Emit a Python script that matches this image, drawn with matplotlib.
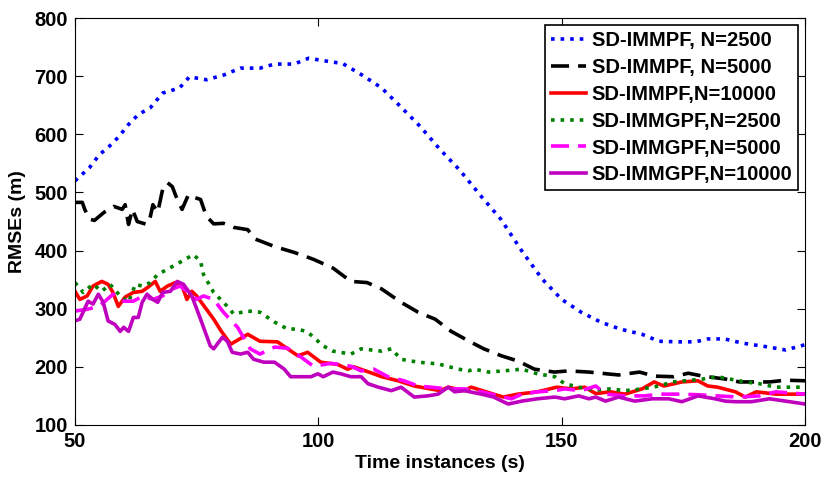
import matplotlib
matplotlib.use("Agg")
import matplotlib.pyplot as plt

plt.rcParams['font.family'] = ['Liberation Sans', 'DejaVu Sans']
plt.rcParams['font.weight'] = 'bold'

# SD-IMMPF, N=2500
t_pf2500 = [50, 53, 55, 57, 59, 61, 63, 65.5, 68, 71.5, 73.5, 77, 80.5, 84, 88, 91, 95, 98,
            102.5, 105, 109, 113, 117, 121, 125, 129, 133.5, 137.5, 142, 146, 150, 154, 158,
            162, 166.5, 170, 174, 177.5, 180, 183.5, 187, 192.5, 196, 200]
v_pf2500 = [520, 543, 565, 579, 596, 617, 634, 646, 671, 680, 699, 694, 702, 714, 714, 721, 721, 731,
            725, 722, 702, 680, 647, 613, 574, 539, 493, 454, 397, 351, 316, 294, 277,
            265, 256, 244, 243, 243, 248, 248, 241, 234, 229, 238]

# SD-IMMPF, N=5000
t_pf5000 = [50, 51.5, 52, 53, 54, 56, 58, 59.7, 60.3, 61, 61.8, 62.8, 64.8, 65.5, 66, 67, 68, 69,
            70, 71, 72, 73.3, 74.7, 75.8, 77, 78.5, 80.5, 82.6, 85.5, 87, 91, 95, 99, 103,
            106.7, 110, 113, 117, 120.5, 124, 127.3, 131, 134, 137.6, 141, 144.4, 148.5,
            151.4, 155.6, 161.7, 166, 169, 173, 176, 179, 183.6, 186.5, 192.7, 196, 200]
v_pf5000 = [483, 483, 471, 454, 452, 466, 476, 471, 479, 445, 471, 450, 445, 459, 479, 466, 505, 517,
            510, 488, 471, 496, 491, 488, 459, 446, 447, 440, 436, 420, 407, 397, 385, 370,
            347, 345, 334, 311, 294, 282, 261, 244, 231, 219, 210, 196, 191,
            193, 191, 186, 191, 184, 183, 189, 184, 179, 174, 174, 177, 176]

# SD-IMMPF, N=10000
t_pf10000 = [50, 51, 52.5, 53.7, 55.5, 56.8, 57.8, 58.9, 60.3, 62, 63.8, 65, 66.5, 67.5, 69, 70.6,
             72, 73, 74, 75, 76.4, 78.5, 80, 82, 85.5, 88, 91.6, 95.8, 97.8, 100.5, 104, 106,
             107.3, 111.4, 113, 116.4, 119.7, 123, 125, 126.7, 130, 131.4, 136, 138, 141, 145,
             149, 152, 154.7, 157, 160, 163, 166.5, 169, 171, 174.7, 178, 180, 182, 185.7, 187.7,
             190, 194, 200]
v_pf10000 = [330, 316, 322, 339, 347, 342, 328, 304, 320, 328, 330, 337, 347, 330, 339, 345,
             339, 316, 330, 322, 306, 282, 262, 239, 256, 244, 243, 219, 225, 208, 204, 196,
             200, 188, 183, 176, 167, 162, 159, 165, 159, 165, 153, 148, 153, 157,
             165, 162, 165, 154, 157, 153, 162, 174, 167, 174, 176, 167, 165, 157, 148,
             157, 153, 153]

# SD-IMMGPF, N=2500
t_gpf2500 = [50, 51.7, 53.7, 55.5, 57.2, 59.3, 61, 62.4, 63.8, 65.5, 67, 69, 71.6, 74.3, 75.8,
             76.4, 78.5, 81.3, 82.6, 85.5, 88, 91, 93.7, 95.8, 97.8, 101, 103, 106.7, 108.8, 113,
             115, 117, 120.5, 124.6, 128.8, 130.8, 132, 135, 138, 141.8, 145, 148.6, 150.6,
             153.5, 157, 160, 163, 166.5, 170, 172.7, 175.4, 179, 182, 184.5, 187.7, 190.6,
             194, 200]
v_gpf2500 = [345, 328, 342, 330, 342, 322, 311, 342, 339, 345, 359, 368, 380, 393, 382,
             359, 328, 304, 291, 296, 294, 277, 265, 265, 260, 236, 227, 222, 231, 227,
             231, 213, 208, 205, 196, 193, 196, 191, 193, 196, 188, 183, 171,
             165, 160, 162, 159, 162, 167, 174, 176, 179, 183, 179, 174, 171,
             165, 165]

# SD-IMMGPF, N=5000
t_gpf5000 = [50, 52.5, 54.8, 56.2, 57.8, 60, 62, 64, 66, 68, 70, 71.6, 73, 75, 76.4, 78.5, 80.5,
             83.4, 86, 88, 91, 93.7, 96.4, 99, 102.6, 106.7, 108.8, 111.4, 114.3, 117.6, 120.5,
             123, 126.7, 130, 133.5, 137, 139.7, 141.8, 145, 148.6, 150.6, 154, 157, 159, 163,
             167, 170, 174, 178, 182, 186.5, 190.6, 194, 200]
v_gpf5000 = [296, 299, 304, 313, 325, 313, 313, 322, 316, 322, 334, 339, 330, 316, 322, 316, 294,
             268, 231, 222, 234, 232, 217, 201, 206, 201, 193, 196, 183, 176, 167,
             165, 162, 162, 157, 150, 145, 153, 157, 159, 162, 159, 167, 153, 150,
             150, 153, 153, 152, 150, 148, 150, 157, 153]

# SD-IMMGPF, N=10000
t_gpf10000 = [50, 51, 52.7, 53.7, 54.8, 55.8, 56.8, 58.2, 59.3, 60, 61, 62, 63, 63.8, 64.8, 66,
              67, 68, 69.6, 71, 72.3, 74, 75.8, 77.8, 78.5, 80.3, 81.3, 82.3, 84, 85.5, 86.7,
              88.8, 91, 93, 94.3, 96.4, 98.5, 99.9, 101, 103, 104.6, 106.7, 108.8, 110.2,
              112.3, 115, 117, 119.7, 122.5, 124.6, 126.7, 128, 130, 133.5, 136, 139, 141.8,
              145, 148.6, 150.6, 153.5, 155.6, 157, 159, 161.7, 165, 168.6, 172, 174.7, 178,
              181.5, 183.6, 185.7, 189, 192.7, 196, 200]
v_gpf10000 = [279, 282, 313, 308, 325, 311, 279, 273, 261, 268, 261, 285, 285, 311, 325, 316,
              311, 328, 330, 347, 342, 322, 282, 236, 231, 251, 244, 225, 222, 225, 213,
              208, 208, 196, 183, 183, 183, 188, 183, 191, 188, 183, 183, 171,
              165, 159, 165, 148, 150, 153, 165, 157, 159, 153, 148, 136, 141,
              145, 148, 145, 150, 145, 148, 141, 148, 141, 145, 145, 140, 150,
              145, 141, 140, 140, 145, 141, 136]

fig = plt.figure(figsize=(8.24, 4.78), dpi=100)
ax = fig.add_axes([0.091, 0.111, 0.886, 0.851])

lw = 2.6
dash = (5, 2.5)
ax.plot(t_pf2500, v_pf2500, ':', color='#0000ff', lw=lw, label='SD-IMMPF, N=2500')
ax.plot(t_pf5000, v_pf5000, '--', color='black', lw=lw, dashes=dash, label='SD-IMMPF, N=5000')
ax.plot(t_pf10000, v_pf10000, '-', color='#ff0000', lw=lw, label='SD-IMMPF,N=10000')
ax.plot(t_gpf2500, v_gpf2500, ':', color='#008000', lw=lw, label='SD-IMMGPF,N=2500')
ax.plot(t_gpf5000, v_gpf5000, '--', color='#ff00ff', lw=lw, dashes=dash, label='SD-IMMGPF,N=5000')
ax.plot(t_gpf10000, v_gpf10000, '-', color='#bf00bf', lw=lw, label='SD-IMMGPF,N=10000')

ax.set_xlim(50, 200)
ax.set_ylim(100, 800)
ax.set_xticks([50, 100, 150, 200])
ax.set_yticks(range(100, 801, 100))
ax.tick_params(direction='in', top=True, right=True, labelsize=14.5, length=6, pad=5)
for lab in ax.get_xticklabels() + ax.get_yticklabels():
    lab.set_fontweight('bold')

ax.set_xlabel('Time instances (s)', fontsize=14, fontweight='bold', labelpad=3)
ax.set_ylabel('RMSEs (m)', fontsize=14, fontweight='bold', labelpad=6)

leg = ax.legend(loc='upper right', bbox_to_anchor=(0.991, 0.983),
                prop={'weight': 'bold', 'size': 14.5}, fancybox=False, framealpha=1,
                edgecolor='black', handlelength=1.7, handletextpad=0.3,
                labelspacing=0.39, borderpad=0.3, borderaxespad=0.0)
leg.get_frame().set_linewidth(1.2)

fig.savefig('out.png', dpi=100)
